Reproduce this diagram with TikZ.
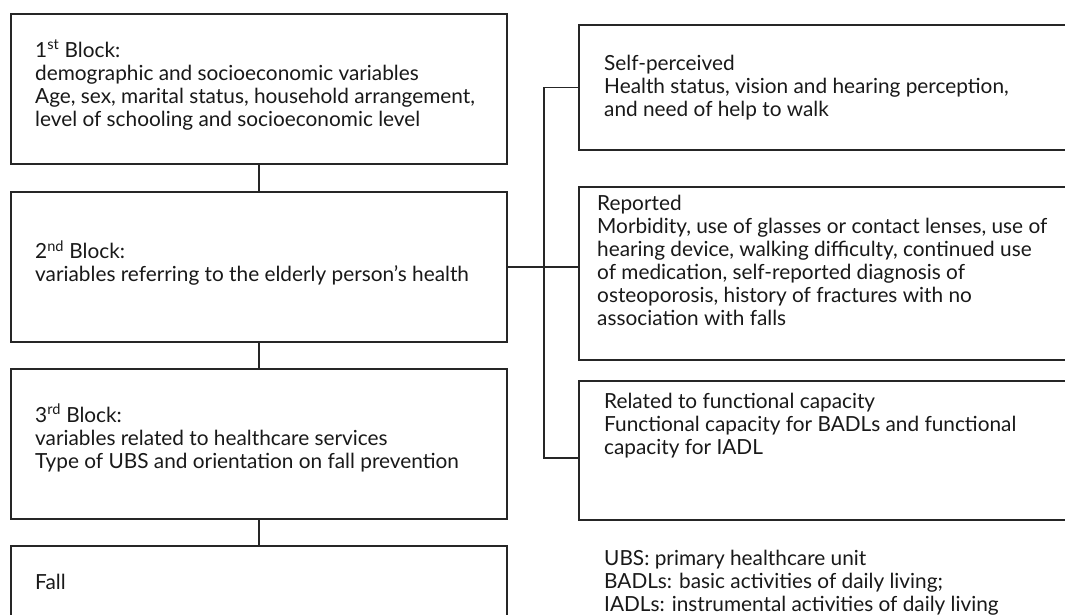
\documentclass[tikz,border=0pt]{standalone}
\usepackage{fontspec}
\setmainfont{Lato}
\begin{document}
\begin{tikzpicture}[x=1pt,y=-1pt,
  box/.style={draw=black!85, line width=1.1pt, rectangle, inner sep=0pt, outer sep=0pt},
  txt/.style={anchor=west, align=left, inner sep=0pt, text=black!90, font=\fontsize{20.8}{23}\selectfont},
  conn/.style={draw=black!85, line width=1.1pt}]
\clip (0,0) rectangle (1065,615);
\fill[white] (0,0) rectangle (1065,615);
% left column
\node[box, minimum width=496, minimum height=150] (b1) at (259,89) {};
\node[box, minimum width=496, minimum height=150] (b2) at (259,267) {};
\node[box, minimum width=496, minimum height=150] (b3) at (259,444) {};
\node[box, minimum width=496, minimum height=150] (b4) at (259,621) {};
\node[txt] (t1) at (35,85) {1\textsuperscript{st} Block:\\demographic and socioeconomic variables\\Age, sex, marital status, household arrangement,\\level of schooling and socioeconomic level};
\node[txt] (t2) at (35,263) {2\textsuperscript{nd} Block:\\variables referring to the elderly person’s health};
\node[txt] (t3) at (35,438) {3\textsuperscript{rd} Block:\\variables related to healthcare services\\Type of UBS and orientation on fall prevention};
\node[txt] (t4) at (35,582) {Fall};
% right column
\node[box, minimum width=521, minimum height=125] (r1) at (839.5,87.5) {};
\node[box, minimum width=521, minimum height=173] (r2) at (839.5,273.5) {};
\node[box, minimum width=521, minimum height=139] (r3) at (839.5,450.5) {};
\node[txt] (s1) at (604,88) {Self-perceived\\Health status, vision and hearing perception,\\and need of help to walk};
\node[txt] (s2) at (597,260) {Reported\\Morbidity, use of glasses or contact lenses, use of\\hearing device, walking difficulty, continued use\\of medication, self-reported diagnosis of\\osteoporosis, history of fractures with no\\association with falls};
\node[txt] (s3) at (604,426) {Related to functional capacity\\Functional capacity for BADLs and functional\\capacity for IADL};
\node[txt] (fn) at (604,583) {UBS: primary healthcare unit\\BADLs: basic activities of daily living;\\IADLs: instrumental activities of daily living};
% connectors
\coordinate (jb) at (544,458);
\draw[conn] (b1.south) -- (b2.north);
\draw[conn] (b2.south) -- (b3.north);
\draw[conn] (b3.south) -- (b4.north);
\draw[conn] (b2.east) -- (b2.east -| r2.west);
\draw[conn] (r1.west) -| (jb) -- (jb -| r3.west);
\end{tikzpicture}
\end{document}
